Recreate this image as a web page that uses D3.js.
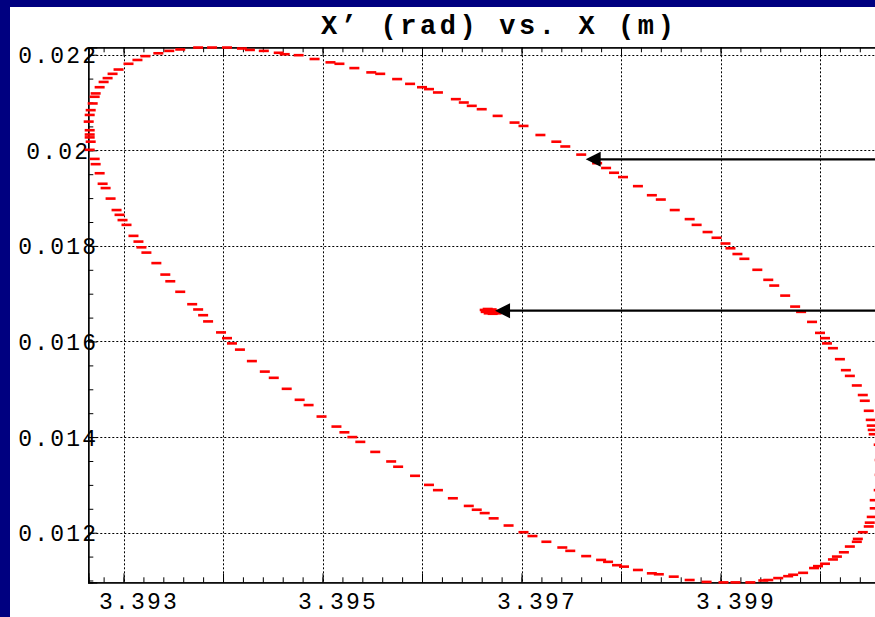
<!DOCTYPE html>
<html><head><meta charset="utf-8">
<script src="https://cdn.jsdelivr.net/npm/d3@7"></script>
<style>body{margin:0;background:#000080;overflow:hidden}svg{display:block}</style>
</head><body><svg id="c" width="875" height="617"></svg>
<script>
// ---------- data ----------
const chartTitle = "X\u2019 (rad) vs. X (m)";
const xMajorTicks = [3.393, 3.394, 3.395, 3.396, 3.397, 3.398, 3.399, 3.400];
const xLabelTicks = ["3.393", "3.395", "3.397", "3.399"];
const yMajorTicks = [0.012, 0.014, 0.016, 0.018, 0.020, 0.022];
const yTickLabels = ["0.012", "0.014", "0.016", "0.018", "0.02", "0.022"];

// phase-space ellipse, read segment by segment (X in m, X' in rad)
const topArcX = [3.39266,3.39267,3.39266,3.39266,3.39266,3.39265,3.39266,3.39267,3.39269,3.39271,
  3.39272,3.39276,3.39280,3.39284,3.39289,3.39295,3.39305,3.39314,3.39322,3.39335,
  3.39346,3.39357,3.39375,3.39389,3.39404,3.39419,3.39427,3.39441,3.39456,3.39462,
  3.39476,3.39492,3.39508,3.39517,3.39532,3.39549,3.39558,3.39575,3.39588];
const topArcY = [0.02001,0.02018,0.02027,0.02033,0.02042,0.02060,0.02074,0.02084,0.02098,0.02112,
  0.02119,0.02132,0.02143,0.02151,0.02160,0.02169,0.02181,0.02189,0.02197,0.02203,
  0.02208,0.02211,0.02215,0.02215,0.02215,0.02213,0.02210,0.02208,0.02204,0.02201,
  0.02199,0.02191,0.02184,0.02181,0.02172,0.02163,0.02160,0.02149,0.02139];

const descentX = [3.39600,3.39607,3.39616,3.39634,3.39642,3.39650,3.39660,3.39676,3.39693,3.39702,
  3.39719,3.39735,3.39744,3.39760,3.39776,3.39785,3.39793,3.39802,3.39817,3.39831,
  3.39840,3.39854,3.39869,3.39876,3.39887,3.39896];
const descentY = [0.02132,0.02128,0.02121,0.02107,0.02100,0.02093,0.02086,0.02072,0.02058,0.02051,
  0.02032,0.02018,0.02008,0.01991,0.01973,0.01963,0.01953,0.01944,0.01925,0.01906,
  0.01897,0.01875,0.01856,0.01844,0.01829,0.01817];

const rightX = [3.39905,3.39910,3.39917,3.39924,3.39937,3.39948,3.39954,3.39965,3.39975,3.39981,
  3.39992,3.40000,3.40005,3.40007,3.40013,3.40020,3.40026,3.40030,3.40037,3.40043,
  3.40045,3.40049,3.40051,3.40052,3.40053,3.40054,3.40059,3.40060,3.40060,3.40059];
const rightY = [0.01805,0.01795,0.01783,0.01773,0.01750,0.01729,0.01717,0.01696,0.01673,0.01662,
  0.01641,0.01618,0.01607,0.01596,0.01586,0.01563,0.01540,0.01528,0.01508,0.01488,
  0.01476,0.01455,0.01436,0.01424,0.01415,0.01406,0.01384,0.01352,0.01321,0.01289];

const bottomX = [3.40055,3.40055,3.40052,3.40050,3.40049,3.40043,3.40038,3.40037,3.40030,3.40024,
  3.40017,3.40013,3.40005,3.39998,3.39994,3.39983,3.39973,3.39968,3.39958,3.39948,
  3.39943,3.39930,3.39915,3.39903,3.39886,3.39869,3.39853,3.39838,3.39831,3.39817,
  3.39803,3.39796,3.39787,3.39780,3.39765,3.39749,3.39741,3.39725,3.39711,3.39702];
const bottomY = [0.01268,0.01251,0.01233,0.01221,0.01213,0.01201,0.01187,0.01181,0.01171,0.01159,
  0.01150,0.01144,0.01135,0.01130,0.01126,0.01116,0.01112,0.01109,0.01105,0.01101,
  0.01100,0.01096,0.01096,0.01096,0.01097,0.01101,0.01108,0.01113,0.01115,0.01122,
  0.01129,0.01132,0.01139,0.01143,0.01151,0.01162,0.01169,0.01181,0.01193,0.01201];

const returnX = [3.39687,3.39672,3.39663,3.39655,3.39647,3.39631,3.39616,3.39607,3.39593,3.39576,
  3.39569,3.39553,3.39538,3.39530,3.39522,3.39514,3.39499,3.39486,3.39477,3.39464,
  3.39451,3.39442,3.39429,3.39417,3.39409,3.39404,3.39398,3.39385,3.39380,3.39375,
  3.39369,3.39357,3.39347,3.39342,3.39333,3.39323,3.39318,3.39315,3.39310,3.39303,
  3.39299,3.39296,3.39293,3.39287,3.39282,3.39279,3.39276,3.39272,3.39271];
const returnY = [0.01215,0.01230,0.01241,0.01248,0.01256,0.01272,0.01289,0.01300,0.01319,0.01338,
  0.01349,0.01369,0.01390,0.01400,0.01410,0.01422,0.01443,0.01467,0.01478,0.01501,
  0.01524,0.01537,0.01559,0.01583,0.01596,0.01607,0.01619,0.01642,0.01655,0.01667,
  0.01678,0.01704,0.01726,0.01740,0.01764,0.01786,0.01797,0.01809,0.01821,0.01844,
  0.01854,0.01865,0.01875,0.01899,0.01921,0.01930,0.01952,0.01971,0.01982];

// central cluster
const coreX = [3.39663,3.39664,3.39666,3.39667,3.39668,3.39669,3.39670,3.39671,3.39672,3.39673,3.39674,3.39675];
const coreY = [0.01666,0.01662,0.01668,0.01659,0.01665,0.01661,0.01667,0.01658,0.01664,0.01660,0.01663,0.01659];

// annotation arrows (tip positions in data units)
const arrowTipX = [3.397645, 3.396734];
const arrowTipY = [0.019812, 0.016644];
const arrowTailX = 3.4009;

// ---------- drawing ----------
(function () {
const svg = d3.select("#c");
const W = 875, H = 617;
svg.append("rect").attr("width", W).attr("height", H).attr("fill", "#000080");
svg.append("rect").attr("x", 10).attr("y", 7).attr("width", W - 10).attr("height", H - 7).attr("fill", "#ffffff");

const x = d3.scaleLinear().domain([3.392646, 3.4008]).range([88.3, 899.6]);
const y = d3.scaleLinear().domain([0.010962, 0.022155]).range([582.3, 47.3]);
const pL = x.range()[0], pT = y.range()[1], pB = y.range()[0];

const FONT = "'Liberation Mono', 'Courier New', monospace";

// grid
const grid = svg.append("g").attr("stroke", "#000").attr("stroke-width", 1).attr("stroke-dasharray", "2,2");
grid.selectAll("line.v").data(xMajorTicks).join("line").attr("class", "v")
  .attr("x1", d => Math.round(x(d)) + 0.5).attr("x2", d => Math.round(x(d)) + 0.5)
  .attr("y1", pT).attr("y2", pB);
grid.selectAll("line.h").data(yMajorTicks).join("line").attr("class", "h")
  .attr("y1", d => Math.round(y(d)) + 0.5).attr("y2", d => Math.round(y(d)) + 0.5)
  .attr("x1", pL).attr("x2", W);

// minor tick values
const xMinor = d3.range(0, 40).map(i => +(3.3928 + i * 0.0002).toFixed(4)).filter(v => v >= x.domain()[0] && v <= x.domain()[1]);
const yMinor = d3.range(0, 23).map(i => +(0.011 + i * 0.0005).toFixed(4));

function styleAxis(g) {
  g.select(".domain").attr("stroke", "#000").attr("stroke-width", 1.3);
  g.selectAll(".tick line").attr("stroke", "#000").attr("stroke-width", 1);
}

// bottom axis
svg.append("g").attr("transform", `translate(0,${pB})`)
  .call(d3.axisBottom(x).tickValues(xMinor).tickSize(-5).tickFormat(""))
  .call(styleAxis);
const bx = svg.append("g").attr("transform", `translate(0,${pB})`)
  .call(d3.axisBottom(x).tickValues(xMajorTicks).tickSize(-9)
    .tickFormat(d => { const s = d3.format(".3f")(d); return xLabelTicks.includes(s) ? s : ""; }))
  .call(styleAxis);
bx.selectAll(".tick text").attr("font-family", FONT).attr("font-size", 23).attr("letter-spacing", 2.2)
  .attr("fill", "#000").attr("y", 609 - pB).attr("dy", 0).attr("dx", 15.1).attr("text-anchor", "middle");

// top axis
svg.append("g").attr("transform", `translate(0,${pT})`)
  .call(d3.axisTop(x).tickValues(xMinor).tickSize(-5).tickFormat(""))
  .call(styleAxis);
svg.append("g").attr("transform", `translate(0,${pT})`)
  .call(d3.axisTop(x).tickValues(xMajorTicks).tickSize(-9).tickFormat(""))
  .call(styleAxis);

// left axis
svg.append("g").attr("transform", `translate(${pL},0)`)
  .call(d3.axisLeft(y).tickValues(yMinor).tickSize(-5).tickFormat(""))
  .call(styleAxis);
const ly = svg.append("g").attr("transform", `translate(${pL},0)`)
  .call(d3.axisLeft(y).tickValues(yMajorTicks).tickSize(-9)
    .tickFormat((d, i) => yTickLabels[i]))
  .call(styleAxis);
ly.selectAll(".tick text").attr("font-family", FONT).attr("font-size", 23).attr("letter-spacing", 2.2)
  .attr("fill", "#000").attr("text-anchor", "middle").attr("x", 58.2 - pL).attr("dy", "0.35em");

// data points (short red dashes)
const segs = [[topArcX, topArcY], [descentX, descentY], [rightX, rightY], [bottomX, bottomY], [returnX, returnY], [coreX, coreY]];
const pts = [];
segs.forEach(([xs, ys]) => xs.forEach((v, i) => pts.push([v, ys[i]])));
svg.append("g").selectAll("rect").data(pts).join("rect")
  .attr("x", d => x(d[0]) - 5).attr("y", d => y(d[1]) - 1.3)
  .attr("width", 10).attr("height", 2.6).attr("fill", "#ff0000");

// arrows
const ag = svg.append("g");
arrowTipX.forEach((tx, i) => {
  const px = x(tx), py = y(arrowTipY[i]);
  ag.append("line").attr("x1", px + 12).attr("x2", x(arrowTailX)).attr("y1", py).attr("y2", py)
    .attr("stroke", "#000").attr("stroke-width", 2.2);
  ag.append("path").attr("d", `M${px},${py} L${px + 15},${py - 7.5} L${px + 15},${py + 7.5} Z`).attr("fill", "#000");
});

// title
svg.append("text").attr("x", 321).attr("y", 33.5).attr("font-family", FONT).attr("font-size", 27)
  .attr("font-weight", "bold").attr("letter-spacing", 3.6).attr("fill", "#000").text(chartTitle);
})();
</script></body></html>
